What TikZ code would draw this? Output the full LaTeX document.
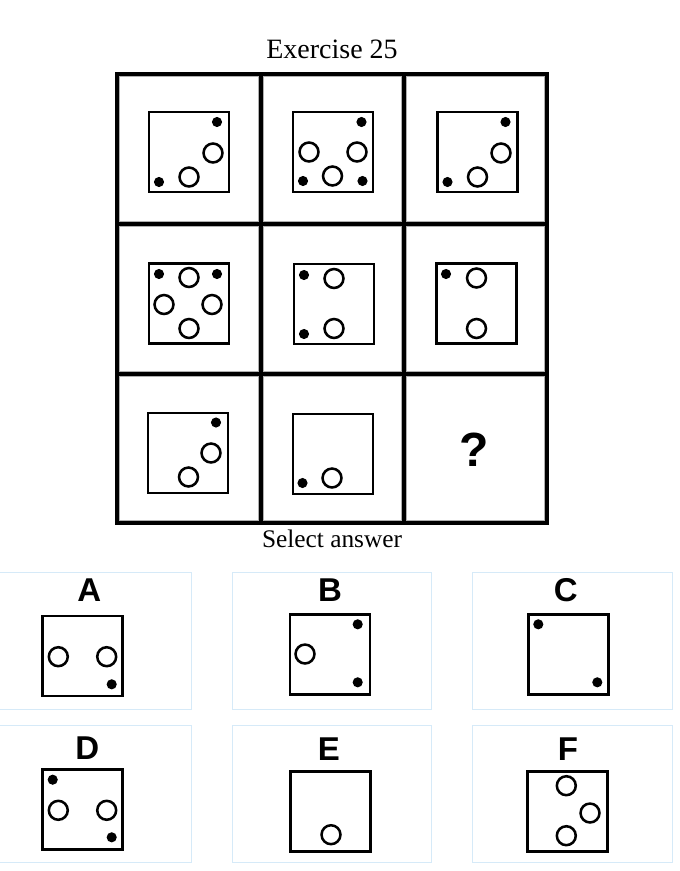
\documentclass[tikz,border=0pt]{standalone}
\usepackage{fontspec}
\setmainfont{Liberation Serif}
\setsansfont{Liberation Sans}
\definecolor{optborder}{RGB}{214,234,248}
\definecolor{cellgray}{RGB}{175,175,175}

% one small die face: top-left corner, then its marks
\newcommand{\diebox}[2]{%
  \begin{scope}[shift={#1}]
    \draw[dieline] (0,0) rectangle (80,80);
    #2
  \end{scope}}
\newcommand{\pipat}[1]{\fill #1 circle [radius=3.8pt];}
\newcommand{\ringat}[1]{\draw[ringline] #1 circle [radius=7.1pt];}

\begin{document}
\begin{tikzpicture}[x=0.75pt,y=-0.75pt,
  gridline/.style={line width=3pt},
  dieline/.style={line width=2pt},
  ringline/.style={line width=1.9pt},
  optbox/.style={draw=optborder,line width=0.75pt},
  optlabel/.style={font=\sffamily\bfseries\fontsize{24.75}{28}\selectfont,anchor=base}]
  \useasboundingbox (0,0) rectangle (679,871);

  \node[anchor=base,font=\fontsize{21}{24}\selectfont] (title) at (332,58.3) {Exercise 25};

  % grid of the puzzle
  \foreach \x/\xx in {117/260.5,260.5/404,404/546.5}
    \foreach \y/\yy in {74/223.5,223.5/373.5,373.5/523}
      \draw[cellgray,line width=0.6pt] (\x+2.6,\y+2.6) rectangle (\xx-2.6,\yy-2.6);
  \draw[gridline] (117,74) rectangle (546.5,523);
  \foreach \x in {260.5,404}
    \draw[gridline] (\x,74) -- (\x,523);
  \foreach \y in {223.5,373.5}
    \draw[gridline] (117,\y) -- (546.5,\y);

  % row 1
  \diebox{(149,112)}{\pipat{(68,10)} \pipat{(10,70)} \ringat{(64,41)} \ringat{(40,65)}}
  \diebox{(293,112)}{\pipat{(68.5,10)} \pipat{(10,69)} \pipat{(69.5,69)}
    \ringat{(16,40)} \ringat{(64,40)} \ringat{(39.5,64)}}
  \diebox{(437.5,112)}{\pipat{(68,10)} \pipat{(10,70)} \ringat{(63.5,41)} \ringat{(40,65)}}
  % row 2
  \diebox{(149,263.5)}{\pipat{(10,10.5)} \pipat{(68,10.5)}
    \ringat{(40,14)} \ringat{(15,41)} \ringat{(63,41)} \ringat{(40,65)}}
  \diebox{(294,264)}{\pipat{(10,11)} \pipat{(10,70)} \ringat{(40,14.5)} \ringat{(40,64.5)}}
  \diebox{(436.5,263.5)}{\pipat{(9.5,10.5)} \ringat{(40,14.5)} \ringat{(40,65)}}
  % row 3
  \diebox{(148,413)}{\pipat{(68,9.5)} \ringat{(63,40)} \ringat{(40.5,64)}}
  \diebox{(293,414)}{\pipat{(9.5,69)} \ringat{(39,64)}}
  \node[font=\sffamily\bfseries\fontsize{36}{40}\selectfont,anchor=base] (missing) at (474,466.7) {?};

  \node[anchor=base,font=\fontsize{19}{22}\selectfont] (select) at (332,547) {Select answer};

  % answer options
  \draw[optbox] (-8.3,572.3) rectangle (191.7,709);
  \draw[optbox] (232.3,572.3) rectangle (431.7,709);
  \draw[optbox] (472.3,572.3) rectangle (672.3,709);
  \draw[optbox] (-8.3,725.3) rectangle (191.7,862);
  \draw[optbox] (232.3,725.3) rectangle (431.7,862);
  \draw[optbox] (472.3,725.3) rectangle (672.3,862);

  \node[optlabel] (labA) at (89.3,601) {A};
  \node[optlabel] (labB) at (330,601.5) {B};
  \node[optlabel] (labC) at (565.7,601) {C};
  \node[optlabel] (labD) at (87.3,759.7) {D};
  \node[optlabel] (labE) at (329,760.5) {E};
  \node[optlabel] (labF) at (568,760.5) {F};

  \diebox{(42.7,616)}{\ringat{(15.6,40.7)} \ringat{(64,40.7)} \pipat{(69,68.3)}}
  \diebox{(290,614.3)}{\pipat{(67.7,10)} \pipat{(67.7,68)} \ringat{(15,39.7)}}
  \diebox{(528.3,614.3)}{\pipat{(10,10)} \pipat{(69,68)}}
  \diebox{(42.7,769.7)}{\pipat{(10,10)} \ringat{(15.6,40.6)} \ringat{(64,40.6)} \pipat{(69,67.6)}}
  \diebox{(290.7,771.3)}{\ringat{(40.3,63.4)}}
  \diebox{(527.3,771.3)}{\ringat{(39,14.4)} \ringat{(62.7,41.7)} \ringat{(39,64.4)}}
\end{tikzpicture}
\end{document}
